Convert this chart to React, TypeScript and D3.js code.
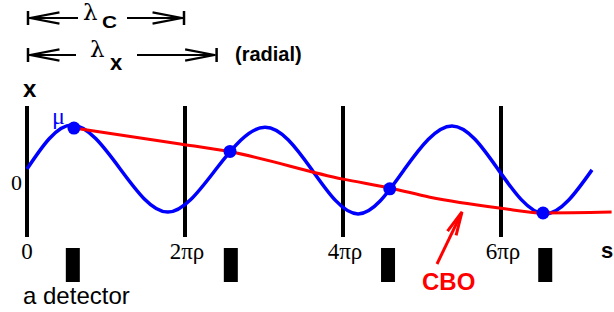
import React from 'react';
import * as d3 from 'd3';

// s in units of one turn (2πρ), x displacement in units of the betatron amplitude
const turnTicks = [0, 1, 2, 3];
const tickLabels = ['0', '2πρ', '4πρ', '6πρ'];
const detectorS = [0.29, 1.29, 2.285, 3.28];

// betatron oscillation: zero crossings and extremes
const betaS = [0, 0.285, 0.59, 0.892, 1.197, 1.506, 1.8, 2.095, 2.39, 2.69, 2.98, 3.278, 3.576];
const betaX = [0, 1.0, 0, -0.98, 0, 0.95, 0, -1.02, 0, 0.98, 0, -1.02, -0.02];
const betaWavelength = 1.2; // λx in turns

// coherent betatron oscillation seen by the detectors
const cboS = [0.297, 0.97, 1.285, 2.0, 2.296, 2.55, 3.0, 3.266, 3.7];
const cboX = [0.93, 0.57, 0.39, -0.23, -0.43, -0.64, -0.89, -1.0, -0.98];

const dotS = [0.297, 1.285, 2.296, 3.266];
const dotX = [0.93, 0.4, -0.45, -1.0];

const SERIF = "'Liberation Serif', 'DejaVu Serif', serif";
const GREEK = "'DejaVu Serif', serif";
const SANS = "'Liberation Sans', Arial, sans-serif";
const BLUE = '#0000ff';
const RED = '#ff0000';

// open "V" arrow head, tip at (tx,ty), pointing along (ux,uy)
const headPath = (tx: number, ty: number, ux: number, uy: number, len: number, ang: number) => {
  const pts = [ang, -ang].map(a => {
    const c = Math.cos(a), s = Math.sin(a);
    const rx = ux * c - uy * s, ry = ux * s + uy * c;
    return [tx - rx * len, ty - ry * len];
  });
  return `M${pts[0][0]},${pts[0][1]}L${tx},${ty}L${pts[1][0]},${pts[1][1]}`;
};

const Span = ({ x1, x2, y, leftEnd, rightStart }: any) => (
  <g stroke="#000" fill="none" strokeWidth={2.2}>
    <line x1={x1} x2={x1} y1={y - 7} y2={y + 7} strokeWidth={2.5} />
    <line x1={x2} x2={x2} y1={y - 7} y2={y + 7} strokeWidth={2.5} />
    <line x1={x1 + 1} x2={leftEnd} y1={y} y2={y} />
    <line x1={rightStart} x2={x2 - 1} y1={y} y2={y} />
    <path d={headPath(x1 + 2, y, -1, 0, 30, 0.19)} />
    <path d={headPath(x2 - 2, y, 1, 0, 30, 0.19)} />
  </g>
);

export default function App() {
  const x = d3.scaleLinear().domain([0, 3]).range([27, 501]);
  const y = d3.scaleLinear().domain([-1, 1]).range([213, 125]);

  const beta = d3.line<number>()
    .x((_, i) => x(betaS[i]))
    .y(d => y(d))
    .curve(d3.curveNatural)(betaX);

  const cbo = d3.line<number>()
    .x((_, i) => x(cboS[i]))
    .y(d => y(d))
    .curve(d3.curveMonotoneX)(cboX);

  // CBO pointer arrow
  const tail = [437, 264], tip = [462, 212];
  const dx = tip[0] - tail[0], dy = tip[1] - tail[1];
  const dl = Math.hypot(dx, dy);

  return (
    <svg width={614} height={312} style={{ position: 'absolute', left: 0, top: 0, background: '#fff' }}>
      {/* wavelength spans */}
      <Span x1={x(0) + 1} x2={x(1) - 1} y={18} leftEnd={78} rightStart={127} />
      <Span x1={x(0) + 1} x2={x(betaWavelength)} y={55} leftEnd={76} rightStart={137} />
      <text x={83} y={20} fontFamily={GREEK} fontSize={23}>λ</text>
      <text x={102} y={28} fontFamily={SANS} fontWeight="bold" fontSize={17}
        textLength={15} lengthAdjust="spacingAndGlyphs">C</text>
      <text x={90} y={57} fontFamily={GREEK} fontSize={23}>λ</text>
      <text x={110} y={70} fontFamily={SANS} fontWeight="bold" fontSize={22}>x</text>
      <text x={235} y={61} fontFamily={SANS} fontWeight="bold" fontSize={20}>(radial)</text>

      {/* axis labels */}
      <text x={23} y={97} fontFamily={SANS} fontWeight="bold" fontSize={24}>x</text>
      <text x={601} y={258} fontFamily={SANS} fontWeight="bold" fontSize={22}>s</text>
      <text x={11} y={190} fontFamily={SERIF} fontSize={22}>0</text>

      {/* turn boundaries */}
      {turnTicks.map((t, i) => (
        <g key={t}>
          <line x1={x(t)} x2={x(t)} y1={106} y2={237} stroke="#000" strokeWidth={4} />
          <text x={x(t) + (i ? 2 : 0)} y={259} textAnchor="middle" fontFamily={SERIF} fontSize={23}>
            {tickLabels[i]}
          </text>
        </g>
      ))}

      {/* detectors */}
      {detectorS.map(s => (
        <rect key={s} x={x(s) - 7} y={248} width={14} height={34} fill="#000" />
      ))}
      <text x={23} y={304} fontFamily={SANS} fontSize={24}>a detector</text>

      {/* trajectories */}
      <path d={beta || ''} fill="none" stroke={BLUE} strokeWidth={3.5} />
      <path d={cbo || ''} fill="none" stroke={RED} strokeWidth={3} />
      {dotS.map((s, i) => (
        <circle key={s} cx={x(s)} cy={y(dotX[i])} r={6.5} fill={BLUE} />
      ))}
      <text x={52} y={124} fontFamily={SERIF} fontSize={24} fill={BLUE}>μ</text>

      {/* CBO label */}
      <g stroke={RED} strokeWidth={3} fill="none">
        <line x1={tail[0]} y1={tail[1]} x2={tip[0] - dx / dl * 2} y2={tip[1] - dy / dl * 2} />
        <path d={headPath(tip[0], tip[1], dx / dl, dy / dl, 24, 0.2)} />
      </g>
      <text x={422} y={290} fontFamily={SANS} fontWeight="bold" fontSize={24} fill={RED}>CBO</text>
    </svg>
  );
}
